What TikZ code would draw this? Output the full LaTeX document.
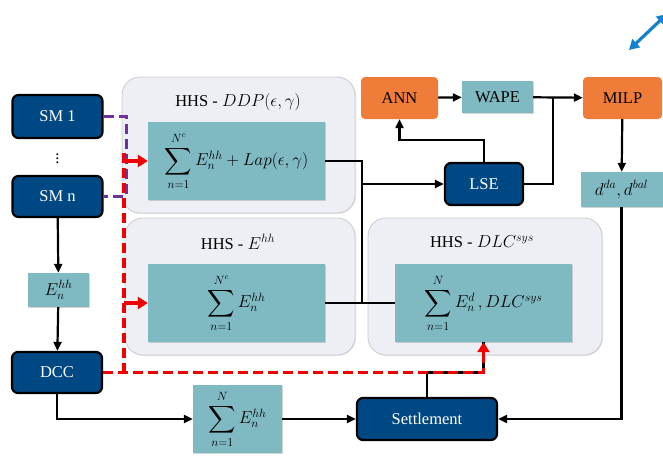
\documentclass[tikz,border=0pt]{standalone}
\usepackage{fontspec}
\setmainfont{Liberation Serif}
\usepackage{graphicx}
\usetikzlibrary{arrows.meta,shadows,calc}
\definecolor{dblue}{RGB}{0,72,132}
\definecolor{teal1}{RGB}{127,185,194}
\definecolor{orng}{RGB}{240,124,58}
\definecolor{contfill}{RGB}{237,239,244}
\definecolor{contdraw}{RGB}{200,203,210}
\definecolor{redd}{RGB}{240,0,0}
\definecolor{purp}{RGB}{112,48,160}
\definecolor{blu}{RGB}{20,130,205}
\newcommand{\BigSum}{\mathop{\vcenter{\kern2pt\hbox{\scalebox{1.9}{$\displaystyle\sum$}}\kern2pt}}\limits}
\begin{document}
\begin{tikzpicture}[x=1pt,y=-1pt,
  every node/.style={font=\fontsize{16.5}{19}\selectfont},
  darkbox/.style={draw=black,line width=2.2pt,fill=dblue,rounded corners=6pt,text=white,inner sep=0pt},
  tealbox/.style={fill=teal1,inner sep=0pt,drop shadow={opacity=0.35,shadow xshift=1.2pt,shadow yshift=-1.2pt}},
  orbox/.style={fill=orng,rounded corners=4pt,inner sep=0pt},
  contbox/.style={draw=contdraw,line width=0.8pt,fill=contfill,rounded corners=18pt,inner sep=0pt,drop shadow={opacity=0.2,shadow xshift=1pt,shadow yshift=-1pt}},
  arr/.style={line width=2.2pt,-{Triangle[length=9pt,width=8pt]}},
  ln/.style={line width=2.2pt},
  reddash/.style={draw=redd,line width=3.8pt,dash pattern=on 10pt off 5pt},
  redarr/.style={draw=redd,line width=3.8pt,-{Triangle[length=10pt,width=12pt]}},
  purpdash/.style={draw=purp,line width=3pt,dash pattern=on 10pt off 5pt}]
\useasboundingbox (0,0) rectangle (663,455);
% containers
\node[contbox,minimum width=233pt,minimum height=136pt] (ddpc) at (238.5,145) {};
\node[contbox,minimum width=230pt,minimum height=137pt] (ehhc) at (240,286.5) {};
\node[contbox,minimum width=234pt,minimum height=137pt] (dlcc) at (485,286.5) {};
\node (t1) at (238,102) {HHS - $DDP(\epsilon,\gamma)$};
\node (t2) at (238,242) {HHS - $E^{hh}$};
\node (t3) at (482,242) {HHS - $DLC^{sys}$};
% inner boxes
\node[tealbox,minimum width=177pt,minimum height=78pt] (ddpin) at (236.5,161) {$\BigSum_{n=1}^{N^c} E_n^{hh}+Lap(\epsilon,\gamma)$};
\node[tealbox,minimum width=177pt,minimum height=78pt] (ehhin) at (236.5,303) {$\BigSum_{n=1}^{N^c} E_n^{hh}$};
\node[tealbox,minimum width=177pt,minimum height=78pt] (dlcin) at (483.5,303) {$\BigSum_{n=1}^{N} E_n^{d}\,,DLC^{sys}$};
% left column
\node[darkbox,minimum width=90pt,minimum height=43pt] (sm1) at (57.5,116.5) {SM 1};
\node (dots) at (57.5,156) {$\vdots$};
\node[darkbox,minimum width=90pt,minimum height=41pt] (smn) at (57.5,196.5) {SM n};
\node[tealbox,minimum width=61pt,minimum height=34pt] (ehh) at (58.5,290) {$E_n^{hh}$};
\node[darkbox,minimum width=90pt,minimum height=41pt] (dcc) at (57,372.5) {DCC};
% bottom
\node[tealbox,minimum width=89pt,minimum height=68pt] (sumN) at (237.5,419) {$\BigSum_{n=1}^{N} E_n^{hh}$};
\node[darkbox,minimum width=140pt,minimum height=42pt] (settle) at (427,419) {Settlement};
% right
\node[orbox,minimum width=77pt,minimum height=42pt] (ann) at (399.5,98) {ANN};
\node[tealbox,minimum width=71pt,minimum height=32pt] (wape) at (497.5,97) {WAPE};
\node[orbox,minimum width=79pt,minimum height=42pt] (milp) at (622.5,98) {MILP};
\node[darkbox,minimum width=78pt,minimum height=42pt] (lse) at (484,184) {LSE};
\node[tealbox,minimum width=82pt,minimum height=35pt] (dbox) at (621.5,189.5) {$d^{da},d^{bal}$};
% coordinates
\coordinate (jtop) at (362,161);
\coordinate (jmid) at (362,184);
\coordinate (jbot) at (362,303);
\coordinate (j1) at (553,97);
\coordinate (k) at (0,140);
\coordinate (rc) at (483.5,372.5);
\coordinate (rv) at (124,372.5);
\coordinate (rtop) at (124,152);
\coordinate (pc) at (126,116.5);
% black connectors
\draw[arr] (smn) -- (ehh);
\draw[arr] (ehh) -- (dcc);
\draw[arr] (dcc.south) |- (sumN.west);
\draw[arr] (sumN) -- (settle);
\draw[arr] (dbox.south) |- (settle.east);
\draw[arr] (milp) -- (dbox);
\draw[arr] (ann) -- (wape);
\draw[arr] (wape) -- (milp);
\draw[ln] (lse.east) -| (j1);
\draw[arr] (lse.north) |- (ann.south |- k) -- (ann.south);
\draw[ln] (ddpin.east |- jtop) -- (jtop) -- (jbot);
\draw[arr] (jmid) -- (lse.west);
\draw[ln] (ehhin.east) -- (dlcin.west);
\draw[ln] (settle.north) |- (rc) -- (dlcin.south);
% dashed
\draw[purpdash] (sm1.east) -- (pc) |- (smn.east);
\draw[reddash] (dcc.east) -- (rc) -- ($(dlcin.south)+(0,9)$);
\draw[reddash] (rv) -- (rtop);
\draw[redarr] (rv |- ddpin.west) -- (ddpin.west);
\draw[redarr] (rv |- ehhin.west) -- (ehhin.west);
\draw[redarr] ($(dlcin.south)+(0,12)$) -- (dlcin.south);
% blue double arrow
\draw[draw=blu,line width=3.2pt,{Triangle[length=10pt,width=11pt]}-{Triangle[length=10pt,width=11pt]}] (629,50) -- (667,14);
\end{tikzpicture}
\end{document}
